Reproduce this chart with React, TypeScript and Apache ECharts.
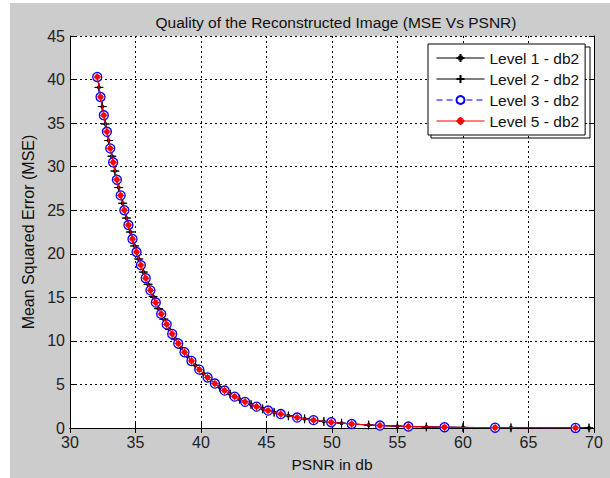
import React, { useEffect, useRef } from "react";
import * as echarts from "echarts";

// Level 3 / Level 5 (db2) sample points
const psnrL35 = [32.08, 32.33, 32.58, 32.82, 33.07, 33.29, 33.58, 33.87, 34.15, 34.46, 34.77, 35.08, 35.41, 35.78, 36.14, 36.55, 36.96, 37.38, 37.8, 38.26, 38.74, 39.27, 39.87, 40.5, 41.06, 41.8, 42.57, 43.36, 44.24, 45.12, 46.09, 47.34, 48.59, 49.94, 51.5, 53.66, 55.83, 58.59, 62.45, 68.59];
const mseL35 = [40.3, 38.0, 35.9, 34.0, 32.1, 30.5, 28.5, 26.7, 25.0, 23.3, 21.7, 20.2, 18.7, 17.2, 15.8, 14.4, 13.1, 11.9, 10.8, 9.7, 8.7, 7.7, 6.7, 5.8, 5.1, 4.3, 3.6, 3.0, 2.45, 2.0, 1.6, 1.2, 0.9, 0.66, 0.46, 0.28, 0.17, 0.09, 0.037, 0.009];
// Level 1 / Level 2 (db2) sample points
const psnrL12 = [32.21, 32.46, 32.7, 32.95, 33.19, 33.43, 33.72, 34.02, 34.31, 34.61, 34.93, 35.25, 35.6, 35.96, 36.34, 36.76, 37.16, 37.6, 38.04, 38.49, 38.99, 39.56, 40.21, 40.81, 41.41, 42.22, 42.95, 43.82, 44.71, 45.58, 46.67, 47.91, 49.38, 50.73, 52.8, 54.99, 57.2, 60.0, 63.66, 69.62];
const mseL12 = [39.1, 36.9, 34.9, 33.0, 31.2, 29.5, 27.6, 25.8, 24.1, 22.5, 20.9, 19.4, 17.9, 16.5, 15.1, 13.7, 12.5, 11.3, 10.2, 9.2, 8.2, 7.2, 6.2, 5.4, 4.7, 3.9, 3.3, 2.7, 2.2, 1.8, 1.4, 1.05, 0.75, 0.55, 0.34, 0.206, 0.124, 0.065, 0.028, 0.0071];

const seriesNames = ["Level 1 - db2", "Level 2 - db2", "Level 3 - db2", "Level 5 - db2"];
const titleText = "Quality of the Reconstructed Image (MSE Vs PSNR)";
const xName = "PSNR in db";
const yName = "Mean Squared Error (MSE)";

const pairs = (xs: number[], ys: number[]) => xs.map((x, i) => [x, ys[i]]);

const FONT = "Liberation Sans, Arial, sans-serif";
const starSym = "path://M0,-10 L0,10 M-10,0 L10,0 M-3,-3 L3,-3 L3,3 L-3,3 Z";
const plusSym = "path://M0,-10 L0,10 M-10,0 L10,0";
const redSym = "path://M0,-10 L0,10 M-10,0 L10,0 M6,0 A6,6 0 1,1 -6,0 A6,6 0 1,1 6,0 Z";

export default function App() {
  const ref = useRef<HTMLDivElement>(null);
  useEffect(() => {
    if (!ref.current) return;
    const chart = echarts.init(ref.current, null, { renderer: "svg" });
    const axisCommon = {
      axisLine: { show: true, lineStyle: { color: "#000", width: 1 } },
      axisTick: { show: true, inside: true, length: 5, lineStyle: { color: "#000" } },
    };
    chart.setOption({
      animation: false,
      backgroundColor: "#ffffff",
      graphic: [
        { type: "rect", shape: { x: 10, y: 3, width: 600, height: 475 }, style: { fill: "#cccccc" }, z: -10 },
        { type: "rect", shape: { x: 70, y: 36, width: 524, height: 392 }, style: { fill: "#ffffff" }, z: -9 },
        { type: "rect", shape: { x: 431, y: 47, width: 159, height: 91 }, style: { fill: "none", stroke: "#000", lineWidth: 1 }, z: 5 },
      ],
      title: {
        text: titleText,
        left: 331,
        top: 9,
        textAlign: "center",
        textStyle: { fontFamily: FONT, fontSize: 15.5, fontWeight: "normal", color: "#111" },
      },
      legend: {
        left: 428,
        top: 44,
        orient: "vertical",
        backgroundColor: "#ffffff",
        borderColor: "#000",
        borderWidth: 1,
        padding: [6, 6, 6, 8],
        itemWidth: 48,
        itemHeight: 10,
        itemGap: 5,
        lineStyle: { width: 1 },
        textStyle: { fontFamily: FONT, fontSize: 15.5, color: "#111" },
        data: seriesNames,
        z: 10,
      },
      grid: { left: 70, right: 16, top: 36, bottom: 50 },
      xAxis: [
        {
          type: "value",
          min: 30,
          max: 70,
          interval: 5,
          name: xName,
          nameLocation: "middle",
          nameGap: 28,
          nameTextStyle: { fontFamily: FONT, fontSize: 15.5, color: "#111" },
          axisLabel: { fontFamily: FONT, fontSize: 16, color: "#222", margin: 6 },
          splitLine: { show: true, lineStyle: { color: "#000", type: [2, 3], width: 1 } },
          ...axisCommon,
        },
        {
          type: "value",
          position: "top",
          min: 30,
          max: 70,
          interval: 5,
          axisLabel: { show: false },
          splitLine: { show: false },
          ...axisCommon,
        },
      ],
      yAxis: [
        {
          type: "value",
          min: 0,
          max: 45,
          interval: 5,
          name: yName,
          nameLocation: "middle",
          nameGap: 32,
          nameTextStyle: { fontFamily: FONT, fontSize: 16, color: "#111" },
          axisLabel: { fontFamily: FONT, fontSize: 16, color: "#222", margin: 5 },
          splitLine: { show: true, lineStyle: { color: "#000", type: [2, 3], width: 1 } },
          ...axisCommon,
        },
        {
          type: "value",
          position: "right",
          min: 0,
          max: 45,
          interval: 5,
          axisLabel: { show: false },
          splitLine: { show: false },
          ...axisCommon,
        },
      ],
      series: [
        {
          name: seriesNames[0],
          type: "line",
          data: pairs(psnrL12, mseL12),
          symbol: starSym,
          symbolSize: 8,
          lineStyle: { color: "#000", width: 1 },
          itemStyle: { color: "#000", borderColor: "#000", borderWidth: 1 },
          z: 2,
        },
        {
          name: seriesNames[1],
          type: "line",
          data: pairs(psnrL12, mseL12),
          symbol: plusSym,
          symbolSize: 9,
          lineStyle: { color: "#000", width: 1 },
          itemStyle: { color: "#000", borderColor: "#000", borderWidth: 1 },
          z: 3,
        },
        {
          name: seriesNames[2],
          type: "line",
          data: pairs(psnrL35, mseL35),
          symbol: "circle",
          symbolSize: 9,
          lineStyle: { color: "#0000ff", width: 1, type: [6, 4] },
          itemStyle: { color: "#ffffff", borderColor: "#0000ff", borderWidth: 1.3 },
          z: 4,
        },
        {
          name: seriesNames[3],
          type: "line",
          data: pairs(psnrL35, mseL35),
          symbol: redSym,
          symbolSize: 8,
          lineStyle: { color: "#ff0000", width: 1 },
          itemStyle: { color: "#ff0000", borderColor: "#ff0000", borderWidth: 1 },
          z: 5,
        },
      ],
    });
    return () => chart.dispose();
  }, []);
  return (
    <div
      ref={ref}
      style={{ position: "fixed", left: 0, top: 0, width: 610, height: 478 }}
    />
  );
}
